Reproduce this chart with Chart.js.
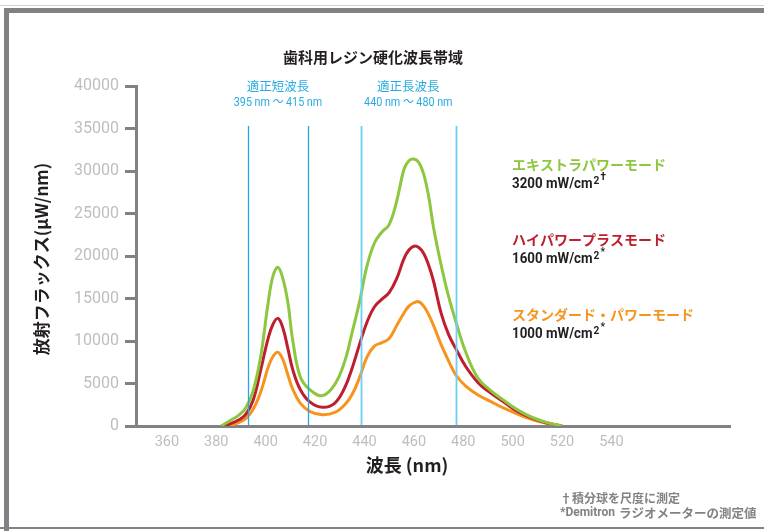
<!DOCTYPE html>
<html>
<head>
<meta charset="utf-8">
<script src="https://cdn.jsdelivr.net/npm/chart.js@4/dist/chart.umd.min.js"></script>
<style>
  body { margin: 0; background: #fff; }
  canvas { display: block; }
</style>
</head>
<body>
<canvas id="spectrum" width="764" height="531"></canvas>
<script>
// wavelength (nm) and radiant flux (uW/nm)
const wavelengths = [382, 384, 386, 389, 392, 395, 398, 401, 403, 405, 407, 409, 411, 414, 418, 423, 428, 432, 435, 438,
  441, 444, 447, 450, 453, 456, 458, 460, 462, 464, 466, 468, 471, 474, 477, 481, 486, 491, 496, 502, 508, 514, 520];
const extraPower = [0, 350, 700, 1250, 2150, 4200, 8200, 14500, 17700, 18670, 17300, 14500, 10000, 5800, 4240, 3570, 4900, 7600, 11000, 14600,
  18800, 21500, 22800, 23700, 26400, 30200, 31200, 31410, 31000, 29600, 27000, 23300, 19000, 15300, 12300, 8700, 5600, 4200, 3100, 1900, 1000, 400, 0];
const highPowerPlus = [0, 100, 300, 700, 1400, 3100, 6600, 10300, 12000, 12650, 11500, 9100, 6600, 4300, 2800, 2200, 2700, 4500, 6800, 9600,
  12200, 14000, 14900, 15700, 17300, 19700, 20700, 21150, 21000, 20300, 18900, 17000, 13300, 10800, 9100, 7000, 5100, 3900, 2900, 1700, 900, 350, 0];
const standardPower = [0, 0, 100, 400, 900, 2000, 4000, 6900, 8200, 8670, 7800, 6000, 4300, 2700, 1690, 1330, 1600, 2500, 3700, 5700,
  8100, 9400, 9800, 10300, 11800, 13300, 14100, 14500, 14620, 14100, 13100, 11800, 9600, 7700, 6000, 4700, 3650, 2900, 2150, 1400, 750, 280, 0];

const xTickValues = [360, 380, 400, 420, 440, 460, 480, 500, 520, 540];
const bandEdges = [393, 417, 438.5, 477];   // drawn band limits
const bandNames = ['適正短波長', '適正長波長'];
const bandRanges = ['395 nm ～ 415 nm', '440 nm ～ 480 nm'];

const modeNames = ['エキストラパワーモード', 'ハイパワープラスモード', 'スタンダード・パワーモード'];
const modeOutputs = ['3200 mW/cm', '1600 mW/cm', '1000 mW/cm'];
const modeMarks = ['†', '*', '*'];
const modeColors = ['#8dc63f', '#be1e2d', '#f7941d'];

const GREY = '#808285';
const LIGHT = '#bcbec0';
const LATIN = 'Roboto, "Noto Sans CJK JP", sans-serif';
const CJK = '"Noto Sans CJK JP", Roboto, sans-serif';

function pts(values) {
  return wavelengths.map((w, i) => ({ x: w, y: values[i] }));
}

// squeeze text horizontally to imitate the condensed face of the original
function narrowText(ctx, text, x, y, sx) {
  ctx.save();
  ctx.translate(x, y);
  ctx.scale(sx, 1);
  ctx.fillText(text, 0, 0);
  ctx.restore();
  return ctx.measureText(text).width * sx;
}

const decor = {
  id: 'decor',
  beforeDraw(chart) {
    const ctx = chart.ctx;
    ctx.save();
    ctx.fillStyle = '#fff';
    ctx.fillRect(0, 0, chart.width, chart.height);
    // frame
    ctx.fillStyle = '#d0d0d0';
    ctx.fillRect(0, 5, 764, 1);
    ctx.fillStyle = GREY;
    ctx.fillRect(4, 8, 760, 5);
    ctx.fillRect(4, 8, 5, 523);
    ctx.fillRect(0, 527, 764, 2);
    ctx.restore();
  },
  afterDatasetsDraw(chart) {
    const ctx = chart.ctx;
    const xs = chart.scales.x;
    const area = chart.chartArea;
    ctx.save();
    // band limits
    bandEdges.forEach((w, i) => {
      const px = Math.round(xs.getPixelForValue(w)) + 0.5;
      ctx.strokeStyle = i < 2 ? '#27a5de' : '#6ccff6';
      ctx.lineWidth = i < 2 ? 1.3 : 1.8;
      ctx.beginPath();
      ctx.moveTo(px, 126);
      ctx.lineTo(px, area.bottom - 1);
      ctx.stroke();
    });
    ctx.textAlign = 'center';
    ctx.textBaseline = 'middle';
    ctx.fillStyle = '#29abe2';
    for (let b = 0; b < 2; b++) {
      const cx = (xs.getPixelForValue(bandEdges[b * 2]) + xs.getPixelForValue(bandEdges[b * 2 + 1])) / 2;
      ctx.font = '12.5px ' + CJK;
      ctx.fillText(bandNames[b], cx, 86);
      ctx.font = '12.5px ' + LATIN;
      narrowText(ctx, bandRanges[b], cx, 103, 0.86);
    }

    // title
    ctx.fillStyle = '#231f20';
    ctx.font = 'bold 15px ' + CJK;
    ctx.fillText('歯科用レジン硬化波長帯域', 373, 57);

    // axis titles
    ctx.font = 'bold 18px ' + CJK;
    ctx.fillText('波長 (nm)', 407, 465);
    ctx.save();
    ctx.translate(42, 259);
    ctx.rotate(-Math.PI / 2);
    ctx.font = 'bold 17px ' + CJK;
    ctx.fillText('放射フラックス(µW/nm)', 0, 0);
    ctx.restore();

    // mode labels
    const rows = [165, 240, 315];
    ctx.textAlign = 'left';
    rows.forEach((y, i) => {
      ctx.fillStyle = modeColors[i];
      ctx.font = 'bold 14px ' + CJK;
      ctx.textBaseline = 'middle';
      ctx.fillText(modeNames[i], 512, y);
      ctx.fillStyle = '#231f20';
      ctx.textBaseline = 'alphabetic';
      ctx.font = 'bold 14.5px ' + LATIN;
      let w = narrowText(ctx, modeOutputs[i], 512, y + 23, 0.92);
      ctx.font = 'bold 11px ' + LATIN;
      w += narrowText(ctx, '2', 512 + w + 1, y + 19, 0.92) + 1;
      narrowText(ctx, modeMarks[i], 512 + w + 1, y + 15, 0.92);
    });

    // footnotes
    ctx.fillStyle = GREY;
    ctx.textBaseline = 'middle';
    ctx.font = 'bold 12px ' + CJK;
    ctx.fillText('†積分球を尺度に測定', 560, 498);
    ctx.font = 'bold 12px ' + LATIN;
    const lead = ctx.measureText('*Demitron').width;
    ctx.fillText('*Demitron', 560, 513);
    ctx.font = 'bold 12.5px ' + CJK;
    ctx.fillText('ラジオメーターの測定値', 560 + lead + 4, 513);
    ctx.restore();
  }
};

const line = (values, color) => ({
  data: pts(values),
  borderColor: color,
  borderWidth: 3,
  pointRadius: 0,
  fill: false,
  tension: 0.4
});

new Chart(document.getElementById('spectrum'), {
  type: 'line',
  data: {
    datasets: [
      line(extraPower, modeColors[0]),
      line(highPowerPlus, modeColors[1]),
      line(standardPower, modeColors[2])
    ]
  },
  options: {
    responsive: false,
    animation: false,
    layout: { padding: { top: 86, right: 34, left: 0, bottom: 0 } },
    plugins: { legend: { display: false }, tooltip: { enabled: false } },
    scales: {
      x: {
        type: 'linear',
        min: 347.5,
        max: 588,
        afterBuildTicks: s => { s.ticks = xTickValues.map(v => ({ value: v })); },
        afterFit: s => { s.height = 105; },
        grid: { display: false, drawTicks: false },
        border: { color: GREY, width: 3 },
        ticks: { color: LIGHT, padding: 8, callback: v => String(v), font: { family: LATIN, size: 14.5 } }
      },
      y: {
        min: 0,
        max: 40000,
        afterFit: s => { s.width = 136; },
        grid: { drawOnChartArea: false, tickLength: 11, color: GREY, lineWidth: 3 },
        border: { color: GREY, width: 3 },
        ticks: { stepSize: 5000, color: LIGHT, padding: 6, callback: v => String(v), font: { family: LATIN, size: 16 } }
      }
    }
  },
  plugins: [decor]
});
</script>
</body>
</html>
